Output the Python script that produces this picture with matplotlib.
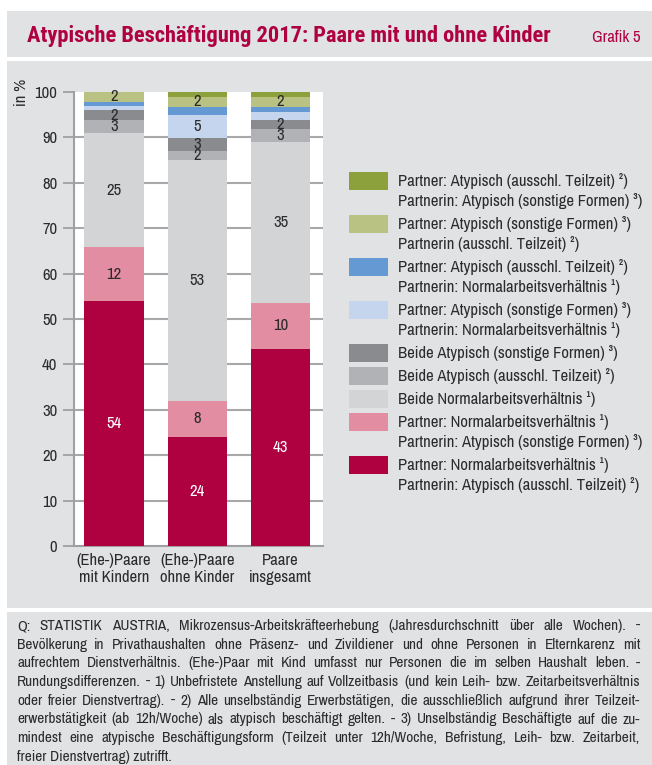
import matplotlib
matplotlib.use("Agg")
import matplotlib.pyplot as plt
from matplotlib.patches import Rectangle

plt.rcParams['font.family'] = ['Archivo Narrow', 'Liberation Sans', 'DejaVu Sans']

# data (percent of couples), stacked bottom -> top
categories = ["(Ehe-)Paare\nmit Kindern", "(Ehe-)Paare\nohne Kinder", "Paare\ninsgesamt"]
series_labels = [
    "Partner: Normalarbeitsverhältnis ¹)\nPartnerin: Atypisch (ausschl. Teilzeit) ²)",
    "Partner: Normalarbeitsverhältnis ¹)\nPartnerin: Atypisch (sonstige Formen) ³)",
    "Beide Normalarbeitsverhältnis ¹)",
    "Beide Atypisch (ausschl. Teilzeit) ²)",
    "Beide Atypisch (sonstige Formen) ³)",
    "Partner: Atypisch (sonstige Formen) ³)\nPartnerin: Normalarbeitsverhältnis ¹)",
    "Partner: Atypisch (ausschl. Teilzeit) ²)\nPartnerin: Normalarbeitsverhältnis ¹)",
    "Partner: Atypisch (sonstige Formen) ³)\nPartnerin (ausschl. Teilzeit) ²)",
    "Partner: Atypisch (ausschl. Teilzeit) ²)\nPartnerin: Atypisch (sonstige Formen) ³)",
]
series_colors = ["#AF0040", "#E28DA2", "#D3D4D6", "#B1B2B5", "#8A8B8F",
                 "#C6D5EE", "#6599D3", "#B9C282", "#8CA13B"]
mit_kindern = [54.0, 11.8, 25.2, 2.8, 2.2, 1.0, 0.8, 2.2, 0.0]
ohne_kinder = [24.0, 8.0, 53.0, 2.1, 2.8, 5.0, 1.9, 2.1, 1.1]
insgesamt = [43.4, 10.2, 35.4, 2.8, 2.0, 1.9, 1.1, 2.2, 1.0]
values = [mit_kindern, ohne_kinder, insgesamt]

title = "Atypische Beschäftigung 2017: Paare mit und ohne Kinder"
footnote_lines = [
    "Q: STATISTIK AUSTRIA, Mikrozensus-Arbeitskräfteerhebung (Jahresdurchschnitt über alle Wochen). -",
    "Bevölkerung in Privathaushalten ohne Präsenz- und Zivildiener und ohne Personen in Elternkarenz mit",
    "aufrechtem Dienstverhältnis. (Ehe-)Paar mit Kind umfasst nur Personen die im selben Haushalt leben. -",
    "Rundungsdifferenzen. - 1) Unbefristete Anstellung auf Vollzeitbasis (und kein Leih- bzw. Zeitarbeitsverhältnis",
    "oder freier Dienstvertrag). - 2) Alle unselbständig Erwerbstätigen, die ausschließlich aufgrund ihrer Teilzeit-",
    "erwerbstätigkeit (ab 12h/Woche) als atypisch beschäftigt gelten. - 3) Unselbständig Beschäftigte auf die zu-",
    "mindest eine atypische Beschäftigungsform (Teilzeit unter 12h/Woche, Befristung, Leih- bzw. Zeitarbeit,",
    "freier Dienstvertrag) zutrifft.",
]

W, H = 652, 765
BG = "#E1E2E4"
CRIMSON = "#AF0040"
TXT = "#2B2B2B"


def fx(x):
    return x / W


def fy(y):
    return 1 - y / H


fig = plt.figure(figsize=(W / 100, H / 100), dpi=100)
fig.patch.set_facecolor("white")

# background panels
for y0, y1 in [(11, 57), (61, 608), (612, 765)]:
    fig.add_artist(Rectangle((fx(7), fy(y1)), fx(W - 7), (y1 - y0) / H,
                             transform=fig.transFigure, facecolor=BG,
                             edgecolor="none", zorder=0))

fig.text(fx(27), fy(36), title, color=CRIMSON, fontsize=16.2, fontweight="bold",
         family=['Roboto Condensed', 'Asap Condensed', 'Archivo Narrow'],
         va="center", ha="left")
fig.text(fx(640), fy(37), "Grafik 5", color=CRIMSON, fontsize=12,
         va="center", ha="right")

# chart
ax = fig.add_axes([fx(74), fy(546), fx(323) - fx(74), (546 - 92) / H])
ax.set_facecolor("white")
x = list(range(len(categories)))
bottoms = [0.0] * len(categories)
for i, color in enumerate(series_colors):
    vals = [v[i] for v in values]
    bars = ax.bar(x, vals, 0.71, bottom=bottoms, color=color, zorder=3)
    for j, rect in enumerate(bars):
        if vals[j] >= 2:
            ax.text(rect.get_x() + rect.get_width() / 2, bottoms[j] + vals[j] / 2,
                    f"{vals[j]:.0f}", ha="center", va="center", fontsize=12,
                    color="white" if i == 0 else TXT, zorder=4)
    bottoms = [b + v for b, v in zip(bottoms, vals)]

ax.set_xlim(-0.48, 2.51)
ax.set_ylim(0, 100)
ax.set_yticks(range(0, 101, 10))
ax.set_xticks(x)
ax.set_xticklabels(categories, fontsize=12, color=TXT, linespacing=1.2)
ax.tick_params(axis="x", length=0, pad=5)
ax.tick_params(axis="y", length=8, width=1.3, color="#A0A0A0", labelsize=12,
               labelcolor=TXT, pad=4)
for s in ["top", "right"]:
    ax.spines[s].set_visible(False)
ax.spines["left"].set_color("#A0A0A0")
ax.spines["left"].set_linewidth(1.5)
ax.spines["bottom"].set_color("#A0A0A0")
ax.spines["bottom"].set_linewidth(1.5)
for g in range(10, 100, 10):
    ax.axhline(g, color="#A8A8A8", linewidth=1.5, zorder=1)

fig.text(fx(22), fy(92), "in %", rotation=90, fontsize=12, color=TXT,
         ha="center", va="center")

# legend (top entry first)
ytop = 172
for i in reversed(range(len(series_colors))):
    nlines = series_labels[i].count("\n") + 1
    fig.add_artist(Rectangle((fx(349), fy(ytop + 18)), 39 / W, 18 / H,
                             transform=fig.transFigure,
                             facecolor=series_colors[i], edgecolor="none"))
    for k, line in enumerate(series_labels[i].split("\n")):
        fig.text(fx(398), fy(ytop + 9 + 20 * k), line, fontsize=12,
                 color=TXT, ha="left", va="center")
    ytop += 23 + 20 * (nlines - 1)

# justified footnote
renderer = fig.canvas.get_renderer()
left_px, right_px = 17, 640
for n, line in enumerate(footnote_lines):
    ypos = fy(626 + 18.7 * n)
    words = line.split(" ")
    if n == len(footnote_lines) - 1:
        fig.text(fx(left_px), ypos, line, fontsize=11, color=TXT, ha="left", va="center")
        continue
    texts = [fig.text(0, ypos, w, fontsize=11, color=TXT, ha="left", va="center")
             for w in words]
    widths = [t.get_window_extent(renderer).width for t in texts]
    gap = (right_px - left_px - sum(widths)) / (len(words) - 1)
    xp = left_px
    for t, w in zip(texts, widths):
        t.set_x(fx(xp))
        xp += w + gap

fig.savefig("out.png", dpi=100)
